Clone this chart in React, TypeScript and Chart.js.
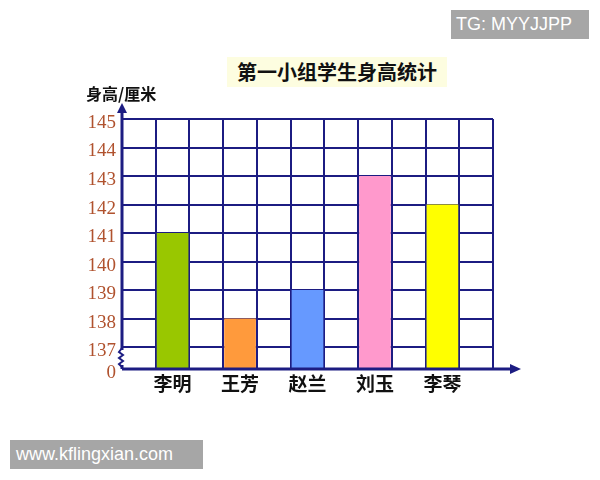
import { useEffect, useRef } from 'react';
import { Chart, registerables } from 'chart.js';

Chart.register(...registerables);

// data
const names = ['李明', '王芳', '赵兰', '刘玉', '李琴'];
const heights = [141, 138, 139, 143, 142];
const barColors = ['#99c700', '#ff9a3c', '#6699ff', '#ff99cc', '#ffff00'];
const yTickValues = [137, 138, 139, 140, 141, 142, 143, 144, 145];
const breakLabel = '0';

const NAVY = '#1c1c82';
// broken axis: the "0" sits a little under 137
const Y_MIN = 136.23;
const Y_MAX = 145;

// every name sits in its own column with an empty column between
const slotLabels: string[] = [''];
const slotValues: (number | null)[] = [null];
const slotColors: string[] = ['transparent'];
names.forEach((n, i) => {
  slotLabels.push(n, '');
  slotValues.push(heights[i], null);
  slotColors.push(barColors[i], 'transparent');
});

const axesPlugin = {
  id: 'arrowAxes',
  afterDraw(chart: Chart) {
    const { ctx, chartArea } = chart;
    const left = chartArea.left;
    const bottom = chartArea.bottom;
    ctx.save();
    ctx.strokeStyle = NAVY;
    ctx.fillStyle = NAVY;
    ctx.lineWidth = 3;

    // y axis with arrow
    ctx.beginPath();
    ctx.moveTo(left, bottom);
    ctx.lineTo(left, 110);
    ctx.stroke();
    ctx.beginPath();
    ctx.moveTo(left, 103);
    ctx.lineTo(left - 5, 113);
    ctx.lineTo(left + 5, 113);
    ctx.closePath();
    ctx.fill();

    // x axis with arrow
    ctx.beginPath();
    ctx.moveTo(left, bottom);
    ctx.lineTo(512, bottom);
    ctx.stroke();
    ctx.beginPath();
    ctx.moveTo(521, bottom);
    ctx.lineTo(510, bottom - 5);
    ctx.lineTo(510, bottom + 5);
    ctx.closePath();
    ctx.fill();

    // break mark
    ctx.fillStyle = '#ffffff';
    ctx.fillRect(left - 4, 350, 8, 15);
    ctx.lineWidth = 2;
    ctx.beginPath();
    ctx.moveTo(left, 348);
    const zig = [352, 355, 358, 361, 364];
    zig.forEach((y, i) => ctx.lineTo(i % 2 === 0 ? left - 3 : left + 1, y));
    ctx.lineTo(left, 367);
    ctx.stroke();
    ctx.restore();
  }
};

export default function App() {
  const canvasRef = useRef<HTMLCanvasElement>(null);

  useEffect(() => {
    const canvas = canvasRef.current;
    if (!canvas) return;

    const chart = new Chart(canvas, {
      type: 'bar',
      data: {
        labels: slotLabels,
        datasets: [
          {
            data: slotValues,
            backgroundColor: slotColors,
            borderWidth: 0,
            barPercentage: 0.94,
            categoryPercentage: 1
          }
        ]
      },
      options: {
        responsive: false,
        animation: false,
        layout: { padding: { top: 119, right: 107, left: 0, bottom: 0 } },
        plugins: {
          legend: { display: false },
          tooltip: { enabled: false },
          title: { display: false }
        },
        scales: {
          x: {
            grid: { offset: true, color: NAVY, lineWidth: 2, drawTicks: false },
            border: { display: false },
            ticks: {
              autoSkip: false,
              maxRotation: 0,
              padding: 3,
              color: '#111111',
              font: { family: '"Noto Sans CJK SC"', size: 19, weight: 'bold' }
            },
            afterFit: (s: any) => {
              s.height = 111;
            }
          },
          y: {
            min: Y_MIN,
            max: Y_MAX,
            afterBuildTicks: (s: any) => {
              s.ticks = [Y_MIN, ...yTickValues].map((v) => ({ value: v }));
            },
            grid: { color: NAVY, lineWidth: 2, drawTicks: false },
            border: { display: false },
            ticks: {
              padding: 6,
              labelOffset: 4,
              color: '#b0522e',
              font: { family: '"Liberation Serif"', size: 19 },
              callback: (v: any) => (v <= Y_MIN + 0.01 ? breakLabel : String(v))
            },
            afterFit: (s: any) => {
              s.width = 122;
            }
          }
        }
      },
      plugins: [axesPlugin]
    });

    return () => chart.destroy();
  }, []);

  const box = {
    position: 'absolute' as const,
    background: '#a6a6a6',
    color: '#ffffff',
    fontFamily: '"Liberation Sans", Arial, sans-serif',
    fontSize: 18,
    height: 29,
    lineHeight: '29px',
    paddingLeft: 5,
    boxSizing: 'border-box' as const
  };

  return (
    <div style={{ position: 'absolute', left: 0, top: 0, width: 600, height: 480, background: '#ffffff' }}>
      <canvas ref={canvasRef} width={600} height={480} style={{ position: 'absolute', left: 0, top: 0 }} />
      <div
        style={{
          position: 'absolute',
          left: 227,
          top: 57,
          width: 220,
          height: 30,
          lineHeight: '30px',
          background: '#fdfde0',
          textAlign: 'center',
          fontFamily: '"Noto Sans CJK SC", sans-serif',
          fontWeight: 'bold',
          fontSize: 20,
          color: '#111111'
        }}
      >
        第一小组学生身高统计
      </div>
      <div
        style={{
          position: 'absolute',
          left: 86,
          top: 82,
          fontFamily: '"Noto Sans CJK SC", sans-serif',
          fontWeight: 'bold',
          fontSize: 16,
          color: '#111111',
          lineHeight: '22px'
        }}
      >
        身高/厘米
      </div>
      <div style={{ ...box, left: 451, top: 10, width: 138 }}>TG: MYYJJPP</div>
      <div style={{ ...box, left: 10, top: 440, width: 193, paddingLeft: 6 }}>www.kflingxian.com</div>
    </div>
  );
}
